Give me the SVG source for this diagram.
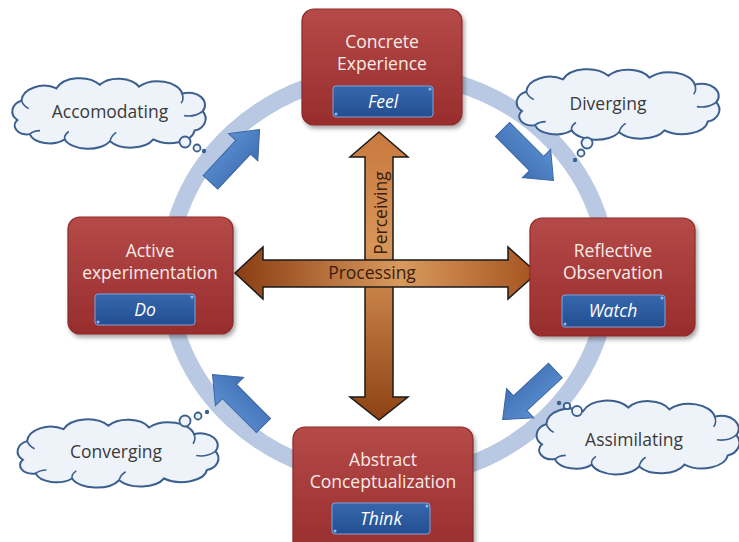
<svg xmlns="http://www.w3.org/2000/svg" xmlns:xlink="http://www.w3.org/1999/xlink" width="739" height="542" viewBox="0 0 739 542">
<style>
.ttl{font-family:"Open Sans","Liberation Sans",sans-serif;font-size:17.5px;fill:#f7ebe7;text-anchor:middle}
.tag{font-family:"Open Sans","Liberation Sans",sans-serif;font-size:17.5px;font-style:italic;fill:#ffffff;text-anchor:middle}
.cl{font-family:"Open Sans","Liberation Sans",sans-serif;font-size:17.5px;fill:#3a3a3a;text-anchor:middle}
.ax{font-family:"Open Sans","Liberation Sans",sans-serif;font-size:17.5px;fill:#3a1e0c;text-anchor:middle}
.red{fill:url(#gRed);stroke:#8e2a2a;stroke-width:1.2;filter:url(#sh)}
.blu{fill:url(#gBlu);stroke:#7fa2d8;stroke-width:1}
.dot{fill:#9ab8e6}
.cloud{fill:#eef3fa;stroke:#3b5f8f;stroke-width:2;vector-effect:non-scaling-stroke}
.curl{fill:none;stroke:#3b5f8f;stroke-width:1.6;vector-effect:non-scaling-stroke}
.bub{fill:#eef3fa;stroke:#3b5f8f;stroke-width:1.8}
.bubf{fill:#3b5f8f}
.barr{fill:url(#gArr);stroke:#3a66a3;stroke-width:1}
</style>
<defs>
<linearGradient id="gRed" x1="0" y1="0" x2="0" y2="1">
<stop offset="0" stop-color="#b54a48"/>
<stop offset="1" stop-color="#982d2d"/>
</linearGradient>
<linearGradient id="gBlu" x1="0" y1="0" x2="0" y2="1">
<stop offset="0" stop-color="#3667ad"/>
<stop offset="1" stop-color="#234f91"/>
</linearGradient>
<linearGradient id="gArr" x1="0" y1="0" x2="0" y2="1">
<stop offset="0" stop-color="#5b8fd2"/>
<stop offset="1" stop-color="#3f70b3"/>
</linearGradient>
<linearGradient id="gH" x1="0" y1="0" x2="1" y2="0">
<stop offset="0" stop-color="#8a3d12"/>
<stop offset="0.55" stop-color="#d99a5e"/>
<stop offset="1" stop-color="#a5531f"/>
</linearGradient>
<linearGradient id="gV" x1="0" y1="0" x2="0" y2="1">
<stop offset="0" stop-color="#c9793e"/>
<stop offset="0.4" stop-color="#d89558"/>
<stop offset="1" stop-color="#8e4214"/>
</linearGradient>
<filter id="sh" x="-10%" y="-10%" width="130%" height="130%">
<feDropShadow dx="2" dy="3" stdDeviation="2" flood-color="#000" flood-opacity="0.35"/>
</filter>
<path id="cloudP" class="cloud" d="M -88,8 A 14 13 0 0 1 -84,-14 A 22 18 0 0 1 -50,-28 A 24 18 0 0 1 -8,-32 A 22 16 0 0 1 30,-30 A 24 17 0 0 1 72,-22 A 16 14 0 0 1 92,-2 A 14 14 0 0 1 84,20 A 24 16 0 0 1 44,30 A 24 16 0 0 1 2,32 A 24 16 0 0 1 -42,30 A 20 14 0 0 1 -76,24 A 12 10 0 0 1 -88,8 Z"/>
<path id="curlP" class="curl" d="M -84,-14 Q -82,-8 -77,-5 M 72,-22 Q 74,-16 71,-11 M 92,-2 Q 84,5 74,3 M 2,32 Q 3,26 8,22 M -42,30 Q -43,25 -38,21 M -76,24 Q -72,20 -66,20"/>
<polygon id="bArrow" class="barr" points="-36,-10 12,-10 12,-20 36,0 12,20 12,10 -36,10"/>
</defs>

<g id="ring">
<ellipse cx="388" cy="276" rx="220" ry="203" fill="none" stroke="#b9c9e3" stroke-width="17"/>
</g>

<g id="connectors">
<use xlink:href="#bArrow" transform="translate(235,156) rotate(-47)"/>
<use xlink:href="#bArrow" transform="translate(528,155) rotate(45)"/>
<use xlink:href="#bArrow" transform="translate(529,395) rotate(137)"/>
<use xlink:href="#bArrow" transform="translate(238,400) rotate(-135)"/>
<polygon id="perceiving-arrow" points="379,132 408,157 393,157 393,397 408,397 379,420 350,397 365,397 365,157 350,157" fill="url(#gV)" stroke="#1a1a1a" stroke-width="1.5" stroke-linejoin="miter"/>
<polygon id="processing-arrow" points="235,273 263,247 263,260 508,260 508,247 537,273 508,299 508,287 263,287 263,299" fill="url(#gH)" stroke="#1a1a1a" stroke-width="1.5"/>
<text class="ax" transform="translate(387,213) rotate(-90)">Perceiving</text>
<text class="ax" x="372" y="279">Processing</text>
</g>

<g id="concrete">
<rect class="red" x="302" y="9" width="160" height="116" rx="12"/>
<text class="ttl" x="382" y="48">Concrete</text>
<text class="ttl" x="382" y="70">Experience</text>
<rect class="blu" x="333" y="86" width="100" height="31" rx="3"/>
<circle class="dot" cx="430" cy="89" r="1.5"/>
<circle class="dot" cx="336" cy="114" r="1.5"/>
<text class="tag" x="383" y="108">Feel</text>
</g>

<g id="active">
<rect class="red" x="68" y="217" width="165" height="117" rx="12"/>
<text class="ttl" x="150" y="257">Active</text>
<text class="ttl" x="150" y="279">experimentation</text>
<rect class="blu" x="95" y="294" width="100" height="31" rx="3"/>
<circle class="dot" cx="192" cy="297" r="1.5"/>
<circle class="dot" cx="98" cy="322" r="1.5"/>
<text class="tag" x="145" y="316">Do</text>
</g>

<g id="reflective">
<rect class="red" x="530" y="218" width="165" height="118" rx="12"/>
<text class="ttl" x="613" y="257">Reflective</text>
<text class="ttl" x="613" y="279">Observation</text>
<rect class="blu" x="562" y="295" width="103" height="32" rx="3"/>
<circle class="dot" cx="662" cy="298" r="1.5"/>
<circle class="dot" cx="565" cy="324" r="1.5"/>
<text class="tag" x="613" y="317">Watch</text>
</g>

<g id="abstract">
<rect class="red" x="293" y="427" width="180" height="128" rx="12"/>
<text class="ttl" x="383" y="466">Abstract</text>
<text class="ttl" x="383" y="488">Conceptualization</text>
<rect class="blu" x="332" y="503" width="98" height="31" rx="3"/>
<circle class="dot" cx="427" cy="506" r="1.5"/>
<circle class="dot" cx="335" cy="531" r="1.5"/>
<text class="tag" x="381" y="525">Think</text>
</g>

<g id="accomodating">
<g transform="translate(108,113) scale(1.03,0.88)"><use xlink:href="#cloudP"/><use xlink:href="#curlP"/></g>
<circle class="bub" cx="185" cy="142" r="5.5"/>
<circle class="bub" cx="197" cy="148" r="3.5"/>
<circle class="bubf" cx="204" cy="151" r="2.2"/>
<text class="cl" x="110" y="118">Accomodating</text>
</g>

<g id="diverging">
<g transform="translate(617,104) scale(1.08,0.88)"><use xlink:href="#cloudP"/><use xlink:href="#curlP"/></g>
<circle class="bub" cx="587" cy="143" r="5.5"/>
<circle class="bub" cx="581" cy="153" r="3.5"/>
<circle class="bubf" cx="575" cy="160" r="2.2"/>
<text class="cl" x="608" y="110">Diverging</text>
</g>

<g id="assimilating">
<g transform="translate(637,437) scale(1.08,0.92)"><use xlink:href="#cloudP"/><use xlink:href="#curlP"/></g>
<circle class="bub" cx="577" cy="411" r="5"/>
<circle class="bub" cx="567" cy="406" r="3.2"/>
<circle class="bubf" cx="559" cy="403" r="2.2"/>
<text class="cl" x="634" y="446">Assimilating</text>
</g>

<g id="converging">
<g transform="translate(117,453) scale(1.07,0.85)"><use xlink:href="#cloudP"/><use xlink:href="#curlP"/></g>
<circle class="bub" cx="185" cy="421" r="5.5"/>
<circle class="bub" cx="198" cy="416" r="3.5"/>
<circle class="bubf" cx="207" cy="412" r="2.2"/>
<text class="cl" x="116" y="458">Converging</text>
</g>
</svg>
